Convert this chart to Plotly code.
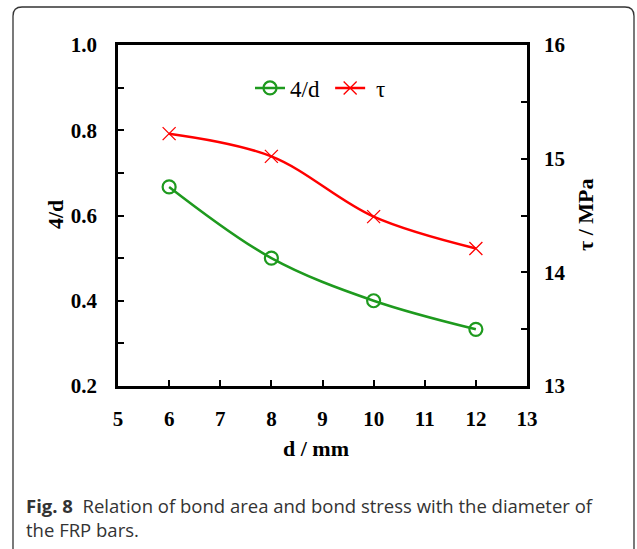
import plotly.graph_objects as go

# ---- data ----
d_mm = [6, 8, 10, 12]
area_ratio = [0.667, 0.500, 0.400, 0.333]   # 4/d
tau_mpa = [15.22, 15.02, 14.49, 14.21]       # bond stress

x_ticks = [5, 6, 7, 8, 9, 10, 11, 12, 13]
y1_ticks = [0.2, 0.4, 0.6, 0.8, 1.0]
y2_ticks = [13, 14, 15, 16]

W, H = 637, 549
L, R, T, B = 118, 527, 45, 386  # plot area in px


def px(xp):
    return (xp - L) / (R - L)


def py(yp):
    return (B - yp) / (B - T)


serif = "Liberation Serif"
tickfont = dict(family=serif, size=21, color="black", weight="bold")
titlefont = dict(family=serif, size=22, color="black", weight="bold")

fig = go.Figure()
fig.add_trace(go.Scatter(
    x=d_mm, y=area_ratio, name="4/d\u00a0", mode="lines+markers",
    line=dict(color="#1e9a1e", width=2.5, shape="spline", smoothing=1.0),
    marker=dict(symbol="circle-open", size=13, color="#1e9a1e", line=dict(width=2.2)),
    yaxis="y",
))
fig.add_trace(go.Scatter(
    x=d_mm, y=tau_mpa, name="\u00a0τ", mode="lines+markers",
    line=dict(color="#ff0000", width=2.5, shape="spline", smoothing=1.0),
    marker=dict(symbol="x-thin-open", size=13, color="#ff0000", line=dict(width=1.3, color="#ff0000")),
    yaxis="y2",
))

axis_common = dict(
    showgrid=False, zeroline=False, showline=True, linecolor="black", linewidth=2.5,
    ticks="inside", ticklen=6, tickwidth=2, tickcolor="black", tickfont=tickfont,
)

fig.update_layout(
    width=W, height=H,
    margin=dict(l=L, r=W - R, t=T, b=H - B),
    paper_bgcolor="white", plot_bgcolor="white",
    showlegend=True,
    legend=dict(
        orientation="h", x=px(250), y=py(88), xanchor="left", yanchor="middle",
        font=dict(family=serif, size=23, color="black"),
        bgcolor="rgba(0,0,0,0)", itemwidth=30, tracegroupgap=0,
    ),
    xaxis=dict(
        **axis_common, range=[5, 13], tickvals=x_ticks, ticktext=[str(v) for v in x_ticks],
        mirror=True, ticklabelstandoff=12,
    ),
    yaxis=dict(
        **axis_common, range=[0.2, 1.0], tickvals=y1_ticks,
        ticktext=[f"{v:.1f}" for v in y1_ticks],
        minor=dict(dtick=0.1, ticks="inside", ticklen=6, tickwidth=2, tickcolor="black"),
        ticklabelstandoff=14,
    ),
    yaxis2=dict(
        **axis_common, range=[13, 16], tickvals=y2_ticks,
        ticktext=[str(v) for v in y2_ticks], overlaying="y", side="right",
        minor=dict(dtick=0.5, ticks="inside", ticklen=6, tickwidth=2, tickcolor="black"),
        ticklabelstandoff=10,
    ),
)

# axis titles
fig.add_annotation(xref="paper", yref="paper", x=px(316), y=py(448), text="d / mm",
                   showarrow=False, font=titlefont, xanchor="center", yanchor="middle")
fig.add_annotation(xref="paper", yref="paper", x=px(55), y=py(215), text="4/d",
                   showarrow=False, font=titlefont, textangle=-90,
                   xanchor="center", yanchor="middle")
fig.add_annotation(xref="paper", yref="paper", x=px(585), y=py(215), text="τ / MPa",
                   showarrow=False, font=titlefont, textangle=-90,
                   xanchor="center", yanchor="middle")

# outer frame (rounded rectangle, open at bottom)
fl, fr, ft, fb, r = 13, 634, 7, 560, 9
path = (f"M {px(fl)},{py(fb)} L {px(fl)},{py(ft + r)} "
        f"Q {px(fl)},{py(ft)} {px(fl + r)},{py(ft)} "
        f"L {px(fr - r)},{py(ft)} Q {px(fr)},{py(ft)} {px(fr)},{py(ft + r)} "
        f"L {px(fr)},{py(fb)}")
fig.add_shape(type="path", xref="paper", yref="paper", path=path,
              line=dict(color="#333333", width=1.3), layer="above")

fig.add_annotation(
    xref="paper", yref="paper", x=px(24), y=py(491), xanchor="left", yanchor="top",
    align="left", showarrow=False,
    text="<b>Fig. 8</b>  Relation of bond area and bond stress with the diameter of<br>the FRP bars.",
    font=dict(family="Open Sans", size=18.5, color="#333333"),
)

fig.write_html("out.html")
